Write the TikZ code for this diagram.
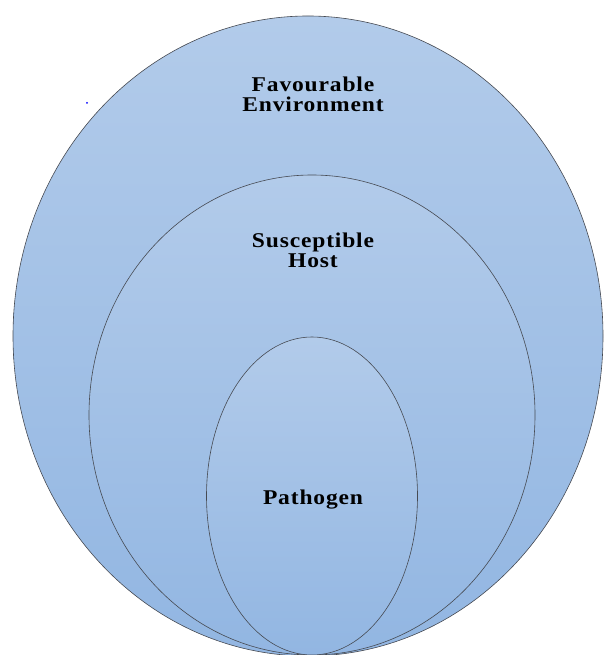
\documentclass[tikz,border=0pt]{standalone}
\usepackage{fontspec}
\setmainfont{Liberation Serif}
\definecolor{ringtop}{RGB}{178,203,234}
\definecolor{ringbot}{RGB}{146,182,226}
\definecolor{ringline}{RGB}{70,74,82}

\begin{document}
\begin{tikzpicture}[x=1pt,y=1pt,
  ring/.style={draw=ringline, line width=0.6pt, top color=ringtop, bottom color=ringbot},
  lbl/.style={font=\bfseries\fontsize{21}{20}\selectfont\addfontfeatures{FakeStretch=1.12,LetterSpace=4}, align=center, inner sep=0pt, anchor=base}]
\useasboundingbox (0,0) rectangle (603,655);

\draw [ring] (308,319) ellipse [x radius=295, y radius=320];
\draw [ring] (312,240) ellipse [x radius=223, y radius=240];
\draw [ring] (312,159) ellipse [x radius=105.5, y radius=159];

\node [lbl] (env) at (313,543) {Favourable\\Environment};
\node [lbl] (host) at (313,387) {Susceptible\\Host};
\node [lbl] (path) at (313,150) {Pathogen};

\fill [blue] (87,552) circle [radius=1];

\end{tikzpicture}
\end{document}
